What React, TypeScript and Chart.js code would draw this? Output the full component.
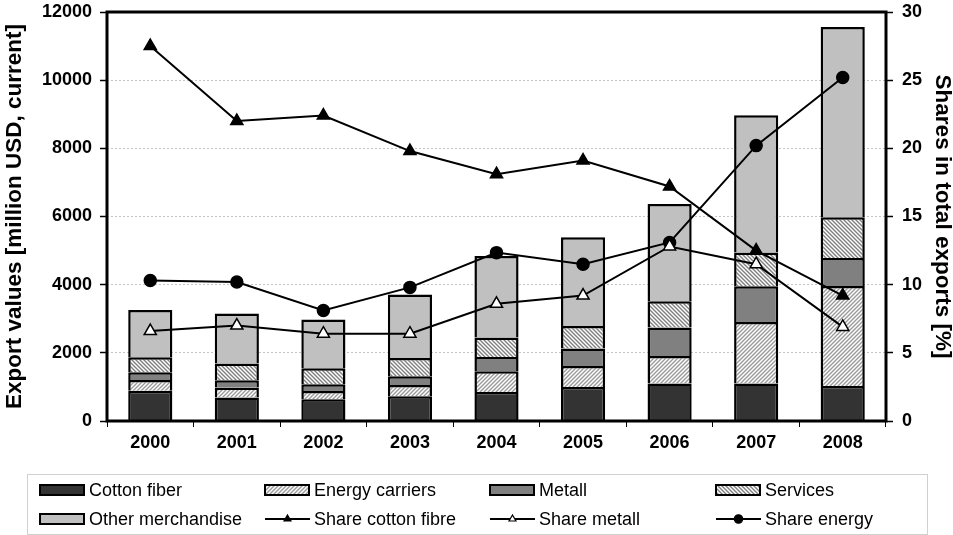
import React, { useEffect, useRef } from "react";
import { Chart, registerables } from "chart.js";

Chart.register(...registerables);

const years = ["2000", "2001", "2002", "2003", "2004", "2005", "2006", "2007", "2008"];
const cottonFiber = [889, 687, 637, 725, 851, 998, 1097, 1100, 1027];
const energyCarriers = [314, 293, 243, 331, 607, 616, 810, 1805, 2934];
const metall = [226, 214, 197, 255, 420, 510, 833, 1047, 821];
const services = [440, 490, 469, 537, 569, 663, 772, 989, 1195];
const otherMerchandise = [1388, 1467, 1429, 1860, 2394, 2603, 2855, 4028, 5583];
const shareCottonFibre = [27.5, 22.0, 22.4, 19.8, 18.1, 19.1, 17.2, 12.5, 9.2];
const shareMetall = [6.6, 7.0, 6.4, 6.4, 8.6, 9.2, 12.8, 11.5, 6.9];
const shareEnergy = [10.3, 10.2, 8.1, 9.8, 12.35, 11.5, 13.1, 20.2, 25.2];

const FONT = "'Liberation Sans', Arial, sans-serif";

function makeStripes(color: string, dir: "up" | "down"): CanvasPattern | string {
  const s = 4;
  const c = document.createElement("canvas");
  c.width = s;
  c.height = s;
  const g = c.getContext("2d");
  if (!g) return color;
  g.fillStyle = "#ffffff";
  g.fillRect(0, 0, s, s);
  g.strokeStyle = color;
  g.lineWidth = 1.4;
  g.beginPath();
  if (dir === "up") {
    g.moveTo(-1, s + 1); g.lineTo(s + 1, -1);
    g.moveTo(-1, 1); g.lineTo(1, -1);
    g.moveTo(s - 1, s + 1); g.lineTo(s + 1, s - 1);
  } else {
    g.moveTo(-1, -1); g.lineTo(s + 1, s + 1);
    g.moveTo(-1, s - 1); g.lineTo(1, s + 1);
    g.moveTo(s - 1, -1); g.lineTo(s + 1, 1);
  }
  g.stroke();
  const p = g.createPattern(c, "repeat");
  return p || color;
}

const framePlugin = {
  id: "frame",
  afterDatasetsDraw(chart: any) {
    const { ctx, chartArea: a } = chart;
    ctx.save();
    ctx.strokeStyle = "#000";
    ctx.lineWidth = 3;
    ctx.strokeRect(a.left, a.top, a.right - a.left, a.bottom - a.top);
    ctx.restore();
  },
};

const legendPlugin = {
  id: "boxLegend",
  afterDraw(chart: any) {
    const ctx = chart.ctx;
    ctx.save();
    ctx.strokeStyle = "#d0d0d0";
    ctx.lineWidth = 1;
    ctx.strokeRect(27.5, 474.5, 900, 60);
    const cols = [40, 265, 490, 716];
    const rows = [490, 519];
    chart.data.datasets.forEach((ds: any, i: number) => {
      const x = cols[i % 4];
      const y = rows[Math.floor(i / 4)];
      if (ds.type === "line") {
        ctx.strokeStyle = "#000";
        ctx.lineWidth = 2;
        ctx.beginPath();
        ctx.moveTo(x, y);
        ctx.lineTo(x + 45, y);
        ctx.stroke();
        const cx = x + 22.5;
        ctx.lineWidth = 1.2;
        ctx.fillStyle = ds.pointBackgroundColor;
        ctx.beginPath();
        if (ds.pointStyle === "circle") {
          ctx.arc(cx, y, 4.2, 0, Math.PI * 2);
        } else {
          const r = 4;
          ctx.moveTo(cx, y - r);
          ctx.lineTo(cx + r * 0.87, y + r * 0.5);
          ctx.lineTo(cx - r * 0.87, y + r * 0.5);
          ctx.closePath();
        }
        ctx.fill();
        ctx.stroke();
      } else {
        ctx.fillStyle = ds.backgroundColor;
        ctx.fillRect(x, y - 5, 44, 10);
        ctx.strokeStyle = "#000";
        ctx.lineWidth = 2;
        ctx.strokeRect(x, y - 5, 44, 10);
      }
      ctx.fillStyle = "#000";
      ctx.font = `18px ${FONT}`;
      ctx.textBaseline = "middle";
      ctx.textAlign = "left";
      ctx.fillText(ds.label, x + 49, y + 1);
    });
    ctx.restore();
  },
};

export default function App() {
  const ref = useRef<HTMLCanvasElement | null>(null);

  useEffect(() => {
    if (!ref.current) return;
    const energyPat = makeStripes("#9a9a9a", "up");
    const servicesPat = makeStripes("#808080", "down");
    const barBase = {
      type: "bar" as const,
      borderColor: "#000",
      borderWidth: 2.5,
      yAxisID: "y",
      order: 2,
      barPercentage: 0.51,
      categoryPercentage: 1.0,
    };
    const lineBase = {
      type: "line" as const,
      borderColor: "#000",
      borderWidth: 2,
      yAxisID: "y1",
      order: 1,
      pointBorderColor: "#000",
      pointBorderWidth: 1.5,
    };
    const plain = (v: any) => String(v);
    const chart = new Chart(ref.current, {
      data: {
        labels: years,
        datasets: [
          { ...barBase, label: "Cotton fiber", data: cottonFiber, backgroundColor: "#333333" },
          { ...barBase, label: "Energy carriers", data: energyCarriers, backgroundColor: energyPat as any },
          { ...barBase, label: "Metall", data: metall, backgroundColor: "#808080" },
          { ...barBase, label: "Services", data: services, backgroundColor: servicesPat as any },
          { ...barBase, label: "Other merchandise", data: otherMerchandise, backgroundColor: "#c0c0c0" },
          { ...lineBase, label: "Share cotton fibre", data: shareCottonFibre, pointStyle: "triangle", pointRadius: 7, pointBackgroundColor: "#000" },
          { ...lineBase, label: "Share metall", data: shareMetall, pointStyle: "triangle", pointRadius: 7, pointBackgroundColor: "#fff" },
          { ...lineBase, label: "Share energy", data: shareEnergy, pointStyle: "circle", pointRadius: 6, pointBackgroundColor: "#000" },
        ] as any,
      },
      options: {
        responsive: false,
        animation: false,
        events: [],
        layout: { padding: { left: 0, right: 0, top: 12, bottom: 74 } },
        plugins: { legend: { display: false }, tooltip: { enabled: false } },
        scales: {
          x: {
            stacked: true,
            offset: true,
            border: { display: false },
            grid: { offset: true, drawOnChartArea: false, drawTicks: true, tickLength: 6, tickColor: "#000", tickWidth: 1 },
            ticks: { color: "#000", font: { family: FONT, size: 18, weight: "bold" }, padding: 5, maxRotation: 0 },
            afterFit: (s: any) => { s.height = 40; s.paddingLeft = 0; s.paddingRight = 0; },
          },
          y: {
            stacked: true,
            position: "left",
            min: 0,
            max: 12000,
            border: { display: false, dash: [2, 2] },
            grid: { color: "#c4c4c4", lineWidth: 1, tickLength: 7, tickColor: "#000", tickWidth: 1.5, tickBorderDash: [] },
            ticks: { stepSize: 2000, color: "#000", font: { family: FONT, size: 18, weight: "bold" }, padding: 8, callback: plain },
            title: {
              display: true,
              text: "Export values [million USD, current]",
              color: "#000",
              font: { family: FONT, size: 22.5, weight: "bold", lineHeight: 1.0 },
              padding: { top: 4, bottom: 0 },
            },
            afterFit: (s: any) => { s.width = 107; s.paddingTop = 0; s.paddingBottom = 0; },
          },
          y1: {
            position: "right",
            min: 0,
            max: 30,
            border: { display: false },
            grid: { drawOnChartArea: false, tickLength: 7, tickColor: "#000", tickWidth: 1.5 },
            ticks: { stepSize: 5, color: "#000", font: { family: FONT, size: 18, weight: "bold" }, padding: 9, callback: plain },
            title: {
              display: true,
              text: "Shares in total exports [%]",
              color: "#000",
              font: { family: FONT, size: 22.5, weight: "bold", lineHeight: 1.0 },
              padding: { top: 0, bottom: 0 },
            },
            afterFit: (s: any) => { s.width = 67; s.paddingTop = 0; s.paddingBottom = 0; },
          },
        },
      } as any,
      plugins: [framePlugin, legendPlugin],
    });
    return () => chart.destroy();
  }, []);

  return (
    <div style={{ position: "absolute", left: 0, top: 0, width: 953, height: 535, background: "#fff" }}>
      <canvas ref={ref} width={953} height={535} style={{ display: "block" }} />
    </div>
  );
}
